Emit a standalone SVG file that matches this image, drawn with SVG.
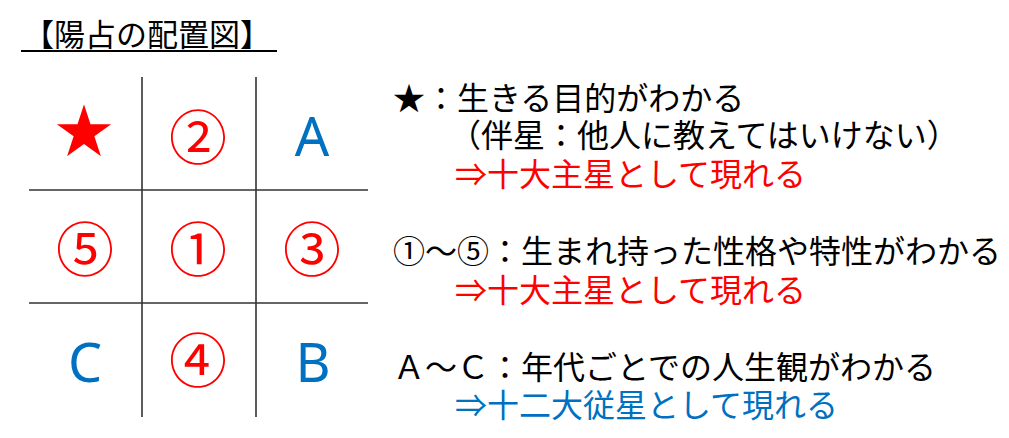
<svg xmlns="http://www.w3.org/2000/svg" width="1009" height="438" viewBox="0 0 1009 438">
  <style>
    .jp { font-family: "Noto Sans CJK JP", "Noto Sans", sans-serif; }
    .body { font-size: 32px; fill: #000000; }
    .red { fill: #FF0000; }
    .blue { fill: #0070C0; }
    .cell { font-size: 58px; text-anchor: middle; }
    .lat { font-family: "Noto Sans", "Open Sans", sans-serif; font-size: 54px; text-anchor: middle; fill: #0070C0; }
    .grid line { stroke: #333333; stroke-width: 1.6; }
  </style>
  <rect width="1009" height="438" fill="#FFFFFF"/>

  <g id="title">
    <text class="jp" x="23" y="46" font-size="31" fill="#000000">【陽占の配置図】</text>
    <line x1="21" y1="51" x2="277" y2="51" stroke="#000000" stroke-width="2"/>
  </g>

  <g id="connectors" class="grid">
    <line x1="142" y1="77" x2="142" y2="417"/>
    <line x1="256" y1="77" x2="256" y2="417"/>
    <line x1="29" y1="190" x2="368" y2="190"/>
    <line x1="29" y1="303" x2="368" y2="303"/>
  </g>

  <g id="cell-star"><text class="jp cell red" x="84" y="152" font-size="42">★</text></g>
  <g id="cell-2"><text class="jp cell red" x="198" y="159">②</text></g>
  <g id="cell-A"><text class="lat" x="312" y="156">A</text></g>
  <g id="cell-5"><text class="jp cell red" x="85" y="271">⑤</text></g>
  <g id="cell-1"><text class="jp cell red" x="198" y="271">①</text></g>
  <g id="cell-3"><text class="jp cell red" x="312" y="271">③</text></g>
  <g id="cell-C"><text class="lat" x="85" y="382">C</text></g>
  <g id="cell-4"><text class="jp cell red" x="198" y="382">④</text></g>
  <g id="cell-B"><text class="lat" x="313" y="382">B</text></g>

  <g id="legend-star">
    <text class="jp body" x="393" y="110">★：生きる目的がわかる</text>
    <text class="jp body" x="449" y="147">（伴星：他人に教えてはいけない）</text>
    <text class="jp body red" x="455" y="186">⇒十大主星として現れる</text>
  </g>
  <g id="legend-numbers">
    <text class="jp body" x="393" y="263">①～⑤：生まれ持った性格や特性がわかる</text>
    <text class="jp body red" x="455" y="302">⇒十大主星として現れる</text>
  </g>
  <g id="legend-letters">
    <text class="jp body" x="393" y="379">Ａ～Ｃ：年代ごとでの人生観がわかる</text>
    <text class="jp body blue" x="455" y="417">⇒十二大従星として現れる</text>
  </g>
</svg>
